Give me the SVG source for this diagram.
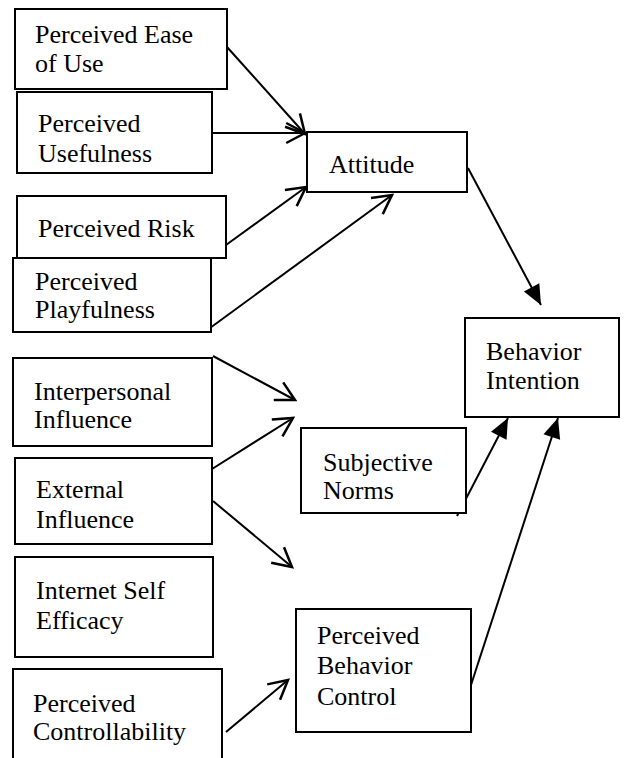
<svg xmlns="http://www.w3.org/2000/svg" width="625" height="758" viewBox="0 0 625 758">
<defs>
<marker id="open" markerUnits="userSpaceOnUse" markerWidth="30" markerHeight="30" viewBox="-20 -10 24 20" refX="0" refY="0" orient="auto" overflow="visible">
<path d="M-15,-8 L0,0 L-15,8" fill="none" stroke="#000" stroke-width="2"/>
</marker>
<marker id="fill" markerUnits="userSpaceOnUse" markerWidth="30" markerHeight="30" viewBox="-20 -10 24 20" refX="0" refY="0" orient="auto" overflow="visible">
<path d="M-16,-7 L0,0 L-16,7 Z" fill="#000" stroke="none"/>
</marker>
</defs>
<rect width="625" height="758" fill="#fff"/>
<g id="connectors" stroke="#000" stroke-width="2" fill="none">
<line marker-end="url(#open)" x1="227" y1="47" x2="305" y2="134"/>
<line marker-end="url(#open)" x1="212" y1="133" x2="305" y2="133"/>
<line marker-end="url(#open)" x1="226" y1="245" x2="306" y2="187"/>
<line marker-end="url(#open)" x1="210" y1="328" x2="392" y2="195"/>
<line marker-end="url(#fill)" x1="468" y1="168" x2="541" y2="305"/>
<line marker-end="url(#open)" x1="213" y1="356" x2="295" y2="400"/>
<line marker-end="url(#open)" x1="212" y1="469" x2="293" y2="418"/>
<line marker-end="url(#open)" x1="213" y1="501" x2="292" y2="567"/>
<line marker-end="url(#open)" x1="226" y1="732" x2="288" y2="680"/>
<line marker-end="url(#fill)" x1="457" y1="516" x2="508" y2="418"/>
<line marker-end="url(#fill)" x1="471" y1="685" x2="558" y2="418"/>
</g>
<g id="peou"><rect fill="#fff" stroke="#000" stroke-width="2" x="15" y="9" width="212" height="80"/><text x="35" y="43" font-size="26" font-family="serif">Perceived Ease</text><text x="35" y="72" font-size="26" font-family="serif">of Use</text></g>
<g id="pu"><rect fill="#fff" stroke="#000" stroke-width="2" x="17" y="92" width="195" height="81"/><text x="38" y="132" font-size="26" font-family="serif">Perceived</text><text x="38" y="162" font-size="26" font-family="serif">Usefulness</text></g>
<g id="pr"><rect fill="#fff" stroke="#000" stroke-width="2" x="17" y="196" width="209" height="62"/><text x="38" y="237" font-size="26" font-family="serif">Perceived Risk</text></g>
<g id="pp"><rect fill="#fff" stroke="#000" stroke-width="2" x="13" y="258" width="198" height="74"/><text x="35" y="290" font-size="26" font-family="serif">Perceived</text><text x="35" y="318" font-size="26" font-family="serif">Playfulness</text></g>
<g id="attitude"><rect fill="#fff" stroke="#000" stroke-width="2" x="307" y="132" width="160" height="60"/><text x="329" y="173" font-size="26" font-family="serif">Attitude</text></g>
<g id="bi"><rect fill="#fff" stroke="#000" stroke-width="2" x="465" y="318" width="154" height="99"/><text x="486" y="360" font-size="26" font-family="serif">Behavior</text><text x="486" y="389" font-size="26" font-family="serif">Intention</text></g>
<g id="interpersonal"><rect fill="#fff" stroke="#000" stroke-width="2" x="13" y="358" width="199" height="88"/><text x="34" y="400" font-size="26" font-family="serif">Interpersonal</text><text x="34" y="428" font-size="26" font-family="serif">Influence</text></g>
<g id="external"><rect fill="#fff" stroke="#000" stroke-width="2" x="15" y="458" width="197" height="86"/><text x="36" y="498" font-size="26" font-family="serif">External</text><text x="36" y="528" font-size="26" font-family="serif">Influence</text></g>
<g id="sn"><rect fill="#fff" stroke="#000" stroke-width="2" x="301" y="428" width="165" height="85"/><text x="323" y="471" font-size="26" font-family="serif">Subjective</text><text x="323" y="499" font-size="26" font-family="serif">Norms</text></g>
<g id="ise"><rect fill="#fff" stroke="#000" stroke-width="2" x="15" y="557" width="198" height="100"/><text x="36" y="599" font-size="26" font-family="serif">Internet Self</text><text x="36" y="629" font-size="26" font-family="serif">Efficacy</text></g>
<g id="pc"><rect fill="#fff" stroke="#000" stroke-width="2" x="13" y="669" width="209" height="100"/><text x="33" y="712" font-size="26" font-family="serif">Perceived</text><text x="33" y="740" font-size="26" font-family="serif">Controllability</text></g>
<g id="pbc"><rect fill="#fff" stroke="#000" stroke-width="2" x="296" y="609" width="175" height="123"/><text x="317" y="644" font-size="26" font-family="serif">Perceived</text><text x="317" y="674" font-size="26" font-family="serif">Behavior</text><text x="317" y="705" font-size="26" font-family="serif">Control</text></g>
</svg>
